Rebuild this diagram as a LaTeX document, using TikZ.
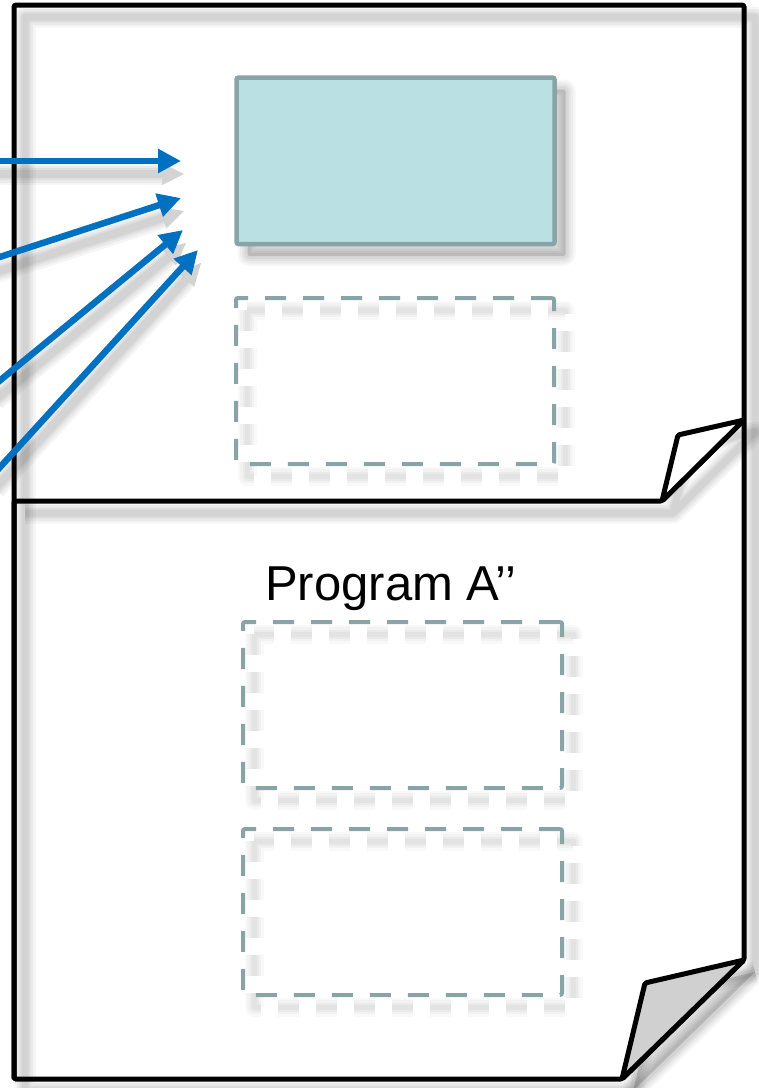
\documentclass[tikz,border=0pt]{standalone}
\usepackage{fontspec}
\setmainfont{Liberation Sans}
\usetikzlibrary{arrows.meta,backgrounds}
\definecolor{boxfill}{HTML}{BBE0E3}
\definecolor{boxline}{HTML}{88A4A6}
\definecolor{arrowblue}{HTML}{0070C0}
\definecolor{foldgray}{HTML}{D0D0D0}
% soft grey shadow: the same path stroked several times, wide and faint to narrow
\newcommand\hazedraw[4]{%
  \foreach \w/\o in {16/0.7,11/0.8,6/0.9,2/0.9}{%
    \draw[black, opacity=#4*\o, line width=#1+\w pt, line join=round, #2] #3;
  }}
\begin{document}
\begin{tikzpicture}[x=1pt,y=-1pt,
  every node/.style={inner sep=0pt, outer sep=0pt},
  sheet/.style={draw=black, line width=5pt, line join=round, rounded corners=1.5pt},
  slot/.style={rectangle, draw=boxline, line width=4pt, dash pattern=on 21pt off 17pt,
    minimum width=318pt, minimum height=166pt, rounded corners=2pt},
  filledslot/.style={rectangle, draw=boxline, fill=boxfill, line width=4.5pt,
    minimum width=318pt, minimum height=166.5pt, rounded corners=2pt},
  link/.style={draw=arrowblue, line width=6.5pt, -{Triangle[length=23pt,width=23pt]}},
  tip/.style={-{Triangle[length=22pt,width=22pt,line width=0pt]}},
  dashes/.style={dash pattern=on 21pt off 17pt},
  castA/.style={transform canvas={shift={(11pt,-12pt)}}},
  castB/.style={transform canvas={shift={(3pt,-13pt)}}},
]
\useasboundingbox (0,0) rectangle (759,1088);

% page corners
\coordinate (pTL) at (14,5);
\coordinate (pTR) at (744,5);
\coordinate (pBL) at (14,1079);
\coordinate (foldA) at (744,960);
\coordinate (foldB) at (645,983);
\coordinate (foldC) at (622,1079);
\coordinate (fBL) at (14,501);
\coordinate (earA) at (744,420);
\coordinate (earB) at (678,435);
\coordinate (earC) at (662,501);

% boxes and caption
\node[filledslot] (prog) at (395.5,160.75) {};
\node[slot] (slotA) at (395,381) {};
\node[font=\fontsize{49}{55}\selectfont, anchor=base] (title) at (391,600) {Program A’’};
\node[slot, minimum width=319pt] (slotB) at (402.5,705) {};
\node[slot, minimum width=319pt] (slotC) at (402.5,912) {};

% incoming arrows
\coordinate (s1) at (-8,161);   \coordinate (t1) at (181,161);
\coordinate (s2) at (-8,259.5); \coordinate (t2) at (181,198);
\coordinate (s3) at (-8,387);   \coordinate (t3) at (183,230);
\coordinate (s4) at (-8,476);   \coordinate (t4) at (198,250);

\begin{scope}[on background layer]
  % page shadows
  \hazedraw{5pt}{castA}{(pTL) -- (pTR) -- (foldA) -- (foldC) -- (pBL) -- cycle}{0.055}
  \fill[castA, black, fill opacity=0.14] (foldA) -- (foldB) -- (foldC) -- cycle;
  \hazedraw{5pt}{castA}{(foldA) -- (foldB) -- (foldC)}{0.055}
  \hazedraw{5pt}{castA}{(fBL) -- (earC) -- (earA) -- (earB) -- (earC)}{0.055}
  % box shadows
  \fill[castA, black, fill opacity=0.14, rounded corners=2pt] (prog.north west) rectangle (prog.south east);
  \hazedraw{4pt}{castA, rounded corners=2pt}{(prog.north west) rectangle (prog.south east)}{0.05}
  \hazedraw{3pt}{castA, dashes}{(slotA.north west) rectangle (slotA.south east)}{0.035}
  \hazedraw{3pt}{castA, dashes}{(slotB.north west) rectangle (slotB.south east)}{0.035}
  \hazedraw{3pt}{castA, dashes}{(slotC.north west) rectangle (slotC.south east)}{0.035}
\end{scope}

% tall back sheet with grey dog-ear
\draw[sheet] (pTL) -- (pTR) -- (foldA) -- (foldC) -- (pBL) -- cycle;
\draw[sheet, fill=foldgray] (foldA) -- (foldB) -- (foldC) -- cycle;
% short front sheet with white dog-ear
\draw[sheet] (pBL) -- (fBL) -- (earC) -- (earA);
\draw[sheet, fill=white] (earA) -- (earB) -- (earC) -- cycle;

% arrow shadows
\foreach \i in {1,2,3,4}{
  \hazedraw{6pt}{castB, tip}{(s\i) -- (t\i)}{0.055}
}
% arrows
\draw[link] (s1) -- (t1);
\draw[link] (s2) -- (t2);
\draw[link] (s3) -- (t3);
\draw[link] (s4) -- (t4);
\end{tikzpicture}
\end{document}
